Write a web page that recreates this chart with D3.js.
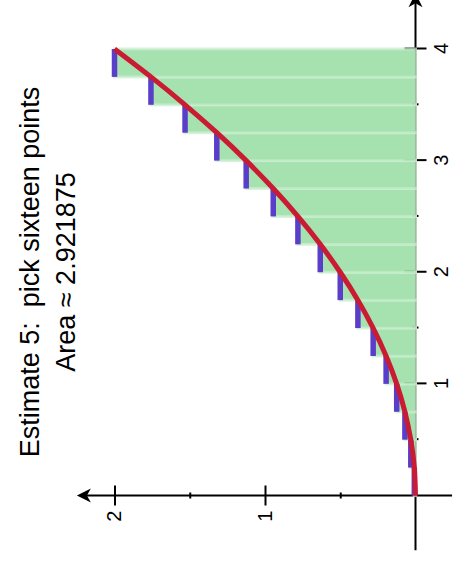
<!DOCTYPE html>
<html>
<head>
<meta charset="utf-8">
<script src="https://cdn.jsdelivr.net/npm/d3@7"></script>
<style>
    body { margin: 0; background: #fff; }
    text { font-family: "Liberation Sans", Arial, sans-serif; fill: #000; }
</style>
</head>
<body>
<div id="chart"></div>
<script>
// Right endpoints of the sixteen sub-intervals and the curve heights there
const samplesX = [0.25, 0.5, 0.75, 1, 1.25, 1.5, 1.75, 2, 2.25, 2.5, 2.75, 3, 3.25, 3.5, 3.75, 4];
const samplesY = [0.0078, 0.0313, 0.0703, 0.125, 0.1953, 0.2813, 0.3828, 0.5, 0.6328, 0.7813, 0.9453, 1.125, 1.3203, 1.5313, 1.7578, 2];

// Points along the red curve
const curveX = [0, 0.25, 0.5, 0.75, 1, 1.25, 1.5, 1.75, 2, 2.25, 2.5, 2.75, 3, 3.25, 3.5, 3.75, 4];
const curveY = [0, 0.0078, 0.0313, 0.0703, 0.125, 0.1953, 0.2813, 0.3828, 0.5, 0.6328, 0.7813, 0.9453, 1.125, 1.3203, 1.5313, 1.7578, 2];

// Tick labels
const xTicks = [1, 2, 3, 4];
const xMinorTicks = [0.5, 1.5, 2.5, 3.5];
const yTicks = [1, 2];
const yMinorTicks = [0.5, 1.5];

const titleLines = ["Estimate 5:  pick sixteen points", "Area \u2248 2.921875"];

const W = 456, H = 564;

const svg = d3.select("#chart").append("svg")
    .attr("width", W)
    .attr("height", H);

// The whole chart is drawn upright and then turned a quarter turn
const g = svg.append("g")
    .attr("transform", `translate(0,${H}) rotate(-90)`);

const x = d3.scaleLinear().domain([0, 4]).range([68.5, 515]);
const y = d3.scaleLinear().domain([0, 2]).range([415.5, 114.5]);

// Axis lines with arrow heads
const xTip = x(4.5), yTip = y(2.25);
g.append("line")
    .attr("x1", x(-0.49)).attr("x2", xTip - 9)
    .attr("y1", y(0)).attr("y2", y(0))
    .attr("stroke", "#000").attr("stroke-width", 2);
g.append("path")
    .attr("d", `M${xTip},${y(0)} L${xTip - 14},${y(0) - 7} L${xTip - 10},${y(0)} L${xTip - 14},${y(0) + 7} Z`)
    .attr("fill", "#000");

g.append("line")
    .attr("x1", x(0)).attr("x2", x(0))
    .attr("y1", y(-0.243)).attr("y2", yTip + 9)
    .attr("stroke", "#000").attr("stroke-width", 2);
g.append("path")
    .attr("d", `M${x(0)},${yTip} L${x(0) - 7},${yTip + 14} L${x(0)},${yTip + 10} L${x(0) + 7},${yTip + 14} Z`)
    .attr("fill", "#000");

// Major and minor ticks through d3 axes
function styleAxis(sel) {
    sel.select(".domain").remove();
    sel.selectAll(".tick line").attr("stroke", "#000").attr("stroke-width", 2);
    sel.selectAll(".tick text")
        .style("font-family", '"Liberation Sans", Arial, sans-serif')
        .style("font-size", "20px")
        .attr("fill", "#000");
}

g.append("g")
    .attr("transform", `translate(0,${y(0) - 11})`)
    .call(d3.axisBottom(x).tickValues(xTicks).tickSize(22).tickPadding(7).tickFormat(d3.format("d")))
    .call(styleAxis);

g.append("g")
    .attr("transform", `translate(0,${y(0) - 3})`)
    .call(d3.axisBottom(x).tickValues(xMinorTicks).tickSize(6).tickFormat(""))
    .call(styleAxis);

g.append("g")
    .attr("transform", `translate(${x(0) + 10},0)`)
    .call(d3.axisLeft(y).tickValues(yTicks).tickSize(20).tickPadding(5).tickFormat(d3.format("d")))
    .call(styleAxis);

g.append("g")
    .attr("transform", `translate(${x(0) + 3},0)`)
    .call(d3.axisLeft(y).tickValues(yMinorTicks).tickSize(6).tickFormat(""))
    .call(styleAxis);

// Riemann rectangles (right endpoints)
const lefts = [0].concat(samplesX.slice(0, -1));

g.append("g").selectAll("rect")
    .data(samplesX)
    .join("rect")
    .attr("x", (d, i) => x(lefts[i]))
    .attr("width", (d, i) => x(d) - x(lefts[i]))
    .attr("y", (d, i) => y(samplesY[i]))
    .attr("height", (d, i) => y(0) - y(samplesY[i]))
    .attr("fill", "#4dc361")
    .attr("fill-opacity", 0.5)
    .attr("stroke", "rgb(200,238,206)")
    .attr("stroke-opacity", 0.75)
    .attr("stroke-width", 3);

// Sample heights in blue
g.append("g").selectAll("line")
    .data(samplesX)
    .join("line")
    .attr("x1", (d, i) => x(lefts[i]))
    .attr("x2", d => x(d))
    .attr("y1", (d, i) => y(samplesY[i]))
    .attr("y2", (d, i) => y(samplesY[i]))
    .attr("stroke", "#5a3dc8")
    .attr("stroke-width", 5.5);

// The curve
const line = d3.line()
    .x(d => x(d[0]))
    .y(d => y(d[1]))
    .curve(d3.curveNatural);

g.append("path")
    .datum(curveX.map((d, i) => [d, curveY[i]]))
    .attr("d", line)
    .attr("fill", "none")
    .attr("stroke", "#c91b32")
    .attr("stroke-width", 5);

// Title
g.append("g").selectAll("text")
    .data(titleLines)
    .join("text")
    .attr("x", 292)
    .attr("y", (d, i) => i === 0 ? 39 : 75)
    .attr("text-anchor", "middle")
    .style("font-size", "27px")
    .style("white-space", "pre")
    .text(d => d);
</script>
</body>
</html>
